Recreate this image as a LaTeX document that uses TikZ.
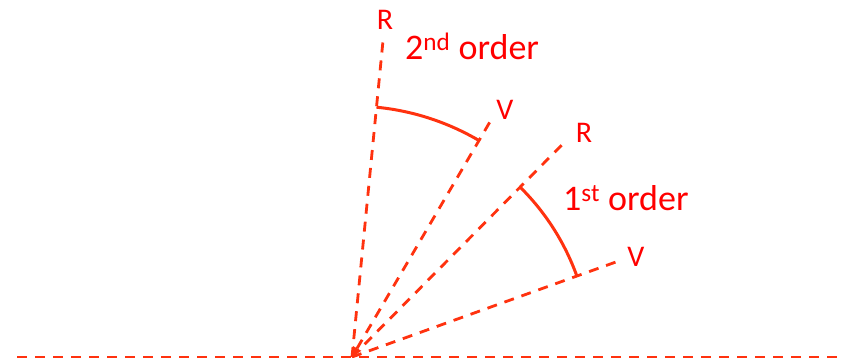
\documentclass[tikz,border=0pt]{standalone}
\usepackage{fontspec}
\setmainfont{Carlito}
\usetikzlibrary{arrows.meta,calc}
\definecolor{cline}{RGB}{255,50,15}
\definecolor{ctext}{RGB}{255,0,0}
\tikzset{
  % dashed rays and base line, solid sweep arcs
  ray/.style={draw=cline,line width=2.8pt,dash pattern=on 10pt off 8pt},
  sweep/.style={draw=cline,line width=3pt},
  lab/.style={text=ctext,font=\fontsize{30}{32}\selectfont,inner sep=0pt,anchor=base},
  ordlab/.style={text=ctext,font=\fontsize{36}{40}\selectfont,inner sep=0pt,anchor=base west}
}
\begin{document}
\begin{tikzpicture}[x=1pt,y=1pt]
  \useasboundingbox (0,0) rectangle (843,358);
  \coordinate (O) at (352,1);
  \coordinate (L) at (17,1);
  \coordinate (E) at (846,1);
  \coordinate (R2) at ($(O)+(84.4:320)$);
  \coordinate (V2) at ($(O)+(59.6:272)$);
  \coordinate (R1) at ($(O)+(45.3:304)$);
  \coordinate (V1) at ($(O)+(19.8:287)$);
  \draw[ray] (L) -- (E);
  \draw[ray] (O) -- (R2);
  \draw[ray,-{Triangle[length=10pt,width=9pt]}] (V2) -- (O);
  \draw[ray] (O) -- (R1);
  \draw[ray] (O) -- (V1);
  \draw[sweep] ($(O)+(84.4:251)$) arc[start angle=84.4,end angle=59.6,radius=251];
  \draw[sweep] ($(O)+(45.3:239)$) arc[start angle=45.3,end angle=19.8,radius=239];
  \node[lab] (r2) at (385,328) {R};
  \node[lab] (v2) at (505,238) {V};
  \node[lab] (r1) at (584,215) {R};
  \node[lab] (v1) at (636,91) {V};
  \node[ordlab] (o2) at (405,298) {2\textsuperscript{nd} order};
  \node[ordlab] (o1) at (563,147) {1\textsuperscript{st} order};
\end{tikzpicture}
\end{document}
